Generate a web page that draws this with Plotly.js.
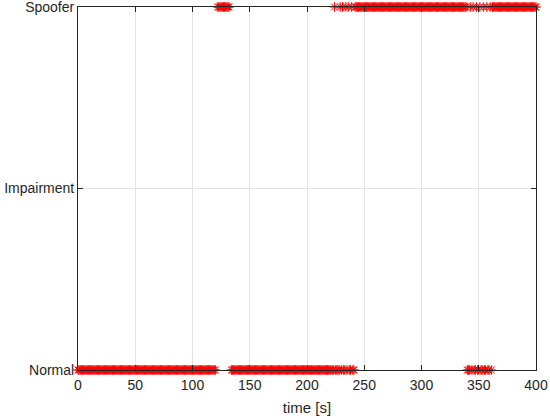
<!DOCTYPE html>
<html>
<head>
<meta charset="utf-8">
<script src="https://cdn.plot.ly/plotly-3.0.1.min.js"></script>
<style>
  body { margin: 0; background: #fff; }
  #myDiv { width: 550px; height: 418px; }
</style>
</head>
<body>
<div id="myDiv"></div>
<script>
// detector state per second, t = 0..400
// N = Normal, I = Impairment, S = Spoofer, . = no sample
var stateRows = [
  'NNNNNNNNNN NNNNNNNNNN NNNNNNNNNN NNNNNNNNNN NNNNNNNNNN', // 0-49
  'NNNNNNNNNN NNNNNNNNNN NNNNNNNNNN NNNNNNNNNN NNNNNNNNNN', // 50-99
  'NNNNNNNNNN NNNNNNNNNN N.SSSSSSSS SSS.NNNNNN NNNNNNNNNN', // 100-149
  'NNNNNNNNNN NNNNNNNNNN NNNNNNNNNN NNNNNNNNNN NNNNNNNNNN', // 150-199
  'NNNNNNNNNN NNNNNNNNNN NNNNSNNNNS NSNNSNSNNS NNSSSSSSSS', // 200-249
  'SSSSSSSSSS SSSSSSSSSS SSSSSSSSSS SSSSSSSSSS SSSSSSSSSS', // 250-299
  'SSSSSSSSSS SSSSSSSSSS SSSSSSSSSS SSSSSSSSSS NNNSNSNNSN', // 300-349
  'NSNNSNNSNN SNSSSSSSSS SSSSSSSSSS SSSSSSSSSS SSSSSSSSSS S' // 350-400
];

var categories = ['Normal', 'Impairment', 'Spoofer'];
var codes = { N: 0, I: 1, S: 2 };
var xTicks = [0, 50, 100, 150, 200, 250, 300, 350, 400];

var states = stateRows.join('').replace(/ /g, '').split('');
var t = [];
var y = [];
states.forEach(function (c, i) {
  if (c === '.') return;
  t.push(i);
  y.push(codes[c]);
});

var trace1 = {
  x: t,
  y: y,
  mode: 'markers',
  type: 'scatter',
  cliponaxis: false,
  marker: {
    symbol: 'asterisk-open',
    size: 8,
    color: '#ff0000',
    line: { color: '#ff0000', width: 1 }
  },
  hoverinfo: 'x+y'
};

var axisFont = { family: 'Liberation Sans, Arial, sans-serif', size: 14, color: '#262626' };

var layout = {
  width: 550,
  height: 418,
  margin: { l: 78, r: 14, t: 7, b: 48 },
  paper_bgcolor: '#ffffff',
  plot_bgcolor: '#ffffff',
  showlegend: false,
  font: axisFont,
  xaxis: {
    title: {
      text: 'time [s]',
      font: { family: 'Liberation Sans, Arial, sans-serif', size: 15, color: '#262626' },
      standoff: 10
    },
    range: [0, 400],
    tickvals: xTicks,
    ticks: 'inside',
    ticklen: 5,
    tickcolor: '#262626',
    ticklabelstandoff: 2,
    showline: true,
    linecolor: '#262626',
    linewidth: 1,
    mirror: 'ticks',
    showgrid: true,
    gridcolor: '#e3e3e3',
    zeroline: false,
    tickfont: axisFont
  },
  yaxis: {
    range: [0, 2],
    tickvals: [0, 1, 2],
    ticktext: categories,
    ticks: 'inside',
    ticklen: 5,
    tickcolor: '#262626',
    ticklabeloverflow: 'allow',
    showline: true,
    linecolor: '#262626',
    linewidth: 1,
    mirror: 'ticks',
    showgrid: true,
    gridcolor: '#e3e3e3',
    zeroline: false,
    tickfont: axisFont
  }
};

Plotly.newPlot('myDiv', [trace1], layout, { displayModeBar: false, staticPlot: true });
</script>
</body>
</html>
